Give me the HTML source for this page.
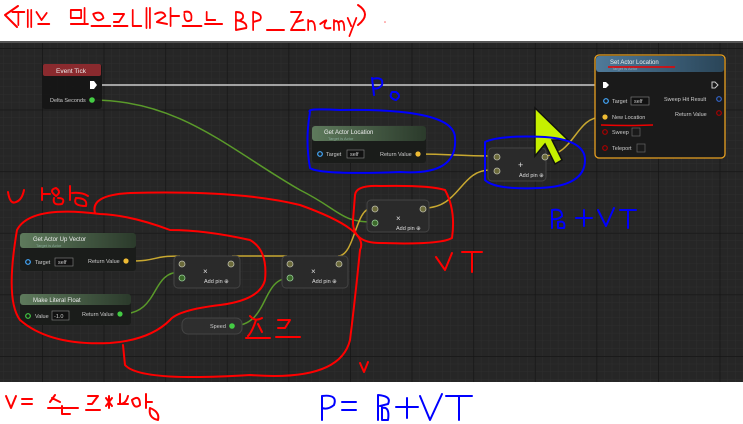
<!DOCTYPE html>
<html><head><meta charset="utf-8"><style>
html,body{margin:0;padding:0;background:#fff;width:743px;height:424px;overflow:hidden}
svg{display:block}
text{font-family:"Liberation Sans",sans-serif}
</style></head><body>
<svg width="743" height="424" viewBox="0 0 743 424" xmlns="http://www.w3.org/2000/svg">
<defs>
<pattern id="mn" x="42" y="48" width="7.7" height="7.7" patternUnits="userSpaceOnUse"><path d="M0 0H7.7M0 0V7.7" stroke="#2e2e2e" stroke-width="1" fill="none"/></pattern>
<pattern id="mj" x="42" y="48" width="61.6" height="61.6" patternUnits="userSpaceOnUse"><path d="M0 0H61.6M0 0V61.6" stroke="#151515" stroke-width="1.5" fill="none"/></pattern>
<linearGradient id="gh" x1="0" x2="1"><stop offset="0" stop-color="#5e7a5c"/><stop offset="1" stop-color="#2b3a2b"/></linearGradient>
<linearGradient id="bh" x1="0" x2="1"><stop offset="0" stop-color="#4f7a9a"/><stop offset="1" stop-color="#2a4558"/></linearGradient>
</defs>
<rect x="0" y="41" width="743" height="341" fill="#262626"/>
<rect x="0" y="41" width="743" height="341" fill="url(#mn)"/>
<rect x="0" y="41" width="743" height="341" fill="url(#mj)"/>
<rect x="0" y="41" width="743" height="2" fill="#555"/>

<!-- wires -->
<path d="M102 85 H598" stroke="#ccc" stroke-width="1.5" fill="none"/>
<path d="M92 100 C180 100 230 150 300 190 C340 210 340 222 372 222" stroke="#5a9a2a" stroke-width="1.5" fill="none"/>
<path d="M128 261 C160 261 150 256 180 256" stroke="#c8a830" stroke-width="1.5" fill="none"/>
<path d="M232 256 H287" stroke="#c8a830" stroke-width="1.5" fill="none"/>
<path d="M338 256 C355 256 355 208 372 208" stroke="#c8a830" stroke-width="1.5" fill="none"/>
<path d="M424 208 C460 208 460 170 490 170" stroke="#c8a830" stroke-width="1.5" fill="none"/>
<path d="M418 154 C450 154 460 156 490 156" stroke="#c8a830" stroke-width="1.5" fill="none"/>
<path d="M543 156 C575 156 575 117 602 117" stroke="#c8a830" stroke-width="1.5" fill="none"/>
<path d="M121 314 C160 314 150 272 180 272" stroke="#5a9a2a" stroke-width="1.5" fill="none"/>
<path d="M232 326 C270 326 260 278 290 278" stroke="#5a9a2a" stroke-width="1.5" fill="none"/>

<!-- Event Tick -->
<rect x="42" y="64" width="60" height="45" rx="3" fill="#151515" opacity=".9"/>
<rect x="43" y="64" width="58" height="12" rx="2" fill="#8a2a2e"/>
<text x="56" y="73" font-size="6.5" fill="#eee">Event Tick</text>
<path d="M90 81 h4 l3 4 l-3 4 h-4z" fill="#fff"/>
<text x="50" y="102" font-size="5.5" fill="#ccc">Delta Seconds</text>
<circle cx="92" cy="100" r="2.8" fill="#4c4"/>

<!-- Get Actor Location -->
<rect x="312" y="126" width="114" height="37" rx="3" fill="#1a1c1a"/>
<rect x="312" y="126" width="114" height="15" rx="3" fill="url(#gh)"/>
<text x="324" y="134" font-size="6" fill="#eee">Get Actor Location</text>
<text x="328" y="140" font-size="4" fill="#8a9">Target is Actor</text>
<circle cx="320" cy="154" r="2.3" fill="none" stroke="#4af" stroke-width="1.2"/>
<text x="326" y="156" font-size="5.5" fill="#ccc">Target</text>
<rect x="347" y="150" width="17" height="8" fill="#111" stroke="#888" stroke-width=".6"/><text x="350" y="156" font-size="5.5" fill="#ccc">self</text>
<text x="380" y="156" font-size="5.5" fill="#ccc">Return Value</text>
<circle cx="418" cy="154" r="2.6" fill="#eb3"/>

<!-- Set Actor Location -->
<rect x="595" y="55" width="130" height="103" rx="4" fill="#1a1a1a" stroke="#e8a020" stroke-width="1.3"/>
<rect x="596" y="56" width="128" height="16" rx="3" fill="url(#bh)"/>
<text x="610" y="64" font-size="6" fill="#eee">Set Actor Location</text>
<text x="612" y="70" font-size="4" fill="#9ab">Target is Actor</text>
<path d="M608 67 H675" stroke="#e00" stroke-width="1.5"/>
<path d="M603 82 h3 l3 3 l-3 3 h-3z" fill="#fff"/>
<path d="M712 82 h3 l3 3 l-3 3 h-3z" fill="none" stroke="#ccc"/>
<circle cx="606" cy="101" r="2.3" fill="none" stroke="#4af" stroke-width="1.2"/>
<text x="612" y="103" font-size="5.5" fill="#ccc">Target</text>
<rect x="631" y="97" width="18" height="8" fill="#111" stroke="#888" stroke-width=".6"/><text x="634" y="103" font-size="5.5" fill="#ccc">self</text>
<text x="664" y="101" font-size="5.5" fill="#ccc">Sweep Hit Result</text>
<circle cx="719" cy="99" r="2.3" fill="none" stroke="#36c" stroke-width="1.2"/>
<text x="675" y="116" font-size="5.5" fill="#ccc">Return Value</text>
<circle cx="719" cy="113" r="2.3" fill="none" stroke="#a00" stroke-width="1.2"/>
<circle cx="605" cy="117" r="2.6" fill="#eb3"/>
<text x="612" y="119" font-size="5.5" fill="#ccc">New Location</text>
<path d="M601 125 Q630 126 653 125" stroke="#e00" stroke-width="1.5" fill="none"/>
<circle cx="605" cy="132" r="2.3" fill="none" stroke="#a00" stroke-width="1.2"/>
<text x="612" y="134" font-size="5.5" fill="#ccc">Sweep</text>
<rect x="632" y="128" width="8" height="8" fill="none" stroke="#666" stroke-width=".7"/>
<circle cx="605" cy="148" r="2.3" fill="none" stroke="#a00" stroke-width="1.2"/>
<text x="612" y="150" font-size="5.5" fill="#ccc">Teleport</text>
<rect x="637" y="144" width="8" height="8" fill="none" stroke="#666" stroke-width=".7"/>

<!-- add node (top) -->
<rect x="488" y="148" width="58" height="33" rx="4" fill="#2a2a2a" stroke="#444"/>
<circle cx="497" cy="157" r="3" fill="#6b6a3a" stroke="#bba" stroke-width=".8"/>
<circle cx="497" cy="171" r="3" fill="#6b6a3a" stroke="#bba" stroke-width=".8"/>
<circle cx="545" cy="157" r="3" fill="#6b6a3a" stroke="#bba" stroke-width=".8"/>
<text x="518" y="168" font-size="9" fill="#ddd">+</text>
<text x="519" y="177" font-size="5.5" fill="#ddd">Add pin ⊕</text>

<!-- multiply nodes -->
<g>
<rect x="367" y="200" width="62" height="32" rx="4" fill="#2a2a2a" stroke="#444"/>
<circle cx="375" cy="209" r="3" fill="#6b6a3a" stroke="#bba" stroke-width=".8"/>
<circle cx="375" cy="223" r="3" fill="#3b6a2a" stroke="#9c9" stroke-width=".8"/>
<circle cx="423" cy="209" r="3" fill="#6b6a3a" stroke="#bba" stroke-width=".8"/>
<text x="396" y="221" font-size="8" fill="#ddd">×</text>
<text x="396" y="230" font-size="5.5" fill="#ddd">Add pin ⊕</text>
</g>
<g>
<rect x="174" y="256" width="66" height="32" rx="4" fill="#2a2a2a" stroke="#444"/>
<circle cx="182" cy="264" r="3" fill="#6b6a3a" stroke="#bba" stroke-width=".8"/>
<circle cx="182" cy="278" r="3" fill="#3b6a2a" stroke="#9c9" stroke-width=".8"/>
<circle cx="231" cy="264" r="3" fill="#6b6a3a" stroke="#bba" stroke-width=".8"/>
<text x="203" y="274" font-size="8" fill="#ddd">×</text>
<text x="204" y="283" font-size="5.5" fill="#ddd">Add pin ⊕</text>
</g>
<g>
<rect x="282" y="256" width="66" height="32" rx="4" fill="#2a2a2a" stroke="#444"/>
<circle cx="290" cy="264" r="3" fill="#6b6a3a" stroke="#bba" stroke-width=".8"/>
<circle cx="290" cy="278" r="3" fill="#3b6a2a" stroke="#9c9" stroke-width=".8"/>
<circle cx="339" cy="264" r="3" fill="#6b6a3a" stroke="#bba" stroke-width=".8"/>
<text x="311" y="274" font-size="8" fill="#ddd">×</text>
<text x="312" y="283" font-size="5.5" fill="#ddd">Add pin ⊕</text>
</g>

<!-- Get Actor Up Vector -->
<rect x="20" y="233" width="116" height="38" rx="3" fill="#1a1c1a"/>
<rect x="20" y="233" width="116" height="15" rx="3" fill="url(#gh)"/>
<text x="33" y="241" font-size="6" fill="#eee">Get Actor Up Vector</text>
<text x="36" y="247" font-size="4" fill="#8a9">Target is Actor</text>
<circle cx="28" cy="262" r="2.3" fill="none" stroke="#4af" stroke-width="1.2"/>
<text x="35" y="264" font-size="5.5" fill="#ccc">Target</text>
<rect x="55" y="258" width="18" height="8" fill="#111" stroke="#888" stroke-width=".6"/><text x="58" y="264" font-size="5.5" fill="#ccc">self</text>
<text x="88" y="263" font-size="5.5" fill="#ccc">Return Value</text>
<circle cx="126" cy="261" r="2.6" fill="#eb3"/>

<!-- Make Literal Float -->
<rect x="20" y="294" width="111" height="31" rx="3" fill="#1a1c1a"/>
<rect x="20" y="294" width="111" height="11" rx="3" fill="url(#gh)"/>
<text x="33" y="302" font-size="6" fill="#eee">Make Literal Float</text>
<circle cx="28" cy="316" r="2.3" fill="none" stroke="#4c4" stroke-width="1.2"/>
<text x="35" y="318" font-size="5.5" fill="#ccc">Value</text>
<rect x="52" y="311" width="17" height="9" fill="#111" stroke="#888" stroke-width=".6"/><text x="54" y="318" font-size="5.5" fill="#ccc">-1.0</text>
<text x="82" y="316" font-size="5.5" fill="#ccc">Return Value</text>
<circle cx="120" cy="314" r="2.6" fill="#4c4"/>

<!-- Speed -->
<rect x="182" y="318" width="60" height="16" rx="6" fill="#2e2e2e" stroke="#444"/>
<text x="210" y="328" font-size="5.5" fill="#ccc">Speed</text>
<circle cx="232" cy="326" r="2.8" fill="#4c4"/>

<!-- annotations red -->
<g fill="none" stroke="#f00" stroke-width="2" stroke-linecap="round" stroke-linejoin="round">
<path d="M18 6 L5 15 L17 27"/>
<path d="M358 5 Q372 14 358 25"/>
<path d="M95 213 Q90 195 130 193 Q240 190 300 205 Q370 230 360 250 Q355 300 350 340 Q340 382 250 375 Q140 382 125 365 L123 345"/>
<path d="M100 214 Q30 205 17 230 Q5 300 20 320 Q50 346 110 343 Q150 340 170 320 Q178 310 220 305 Q260 300 265 280 Q268 250 250 240 Q205 230 170 230 Q130 215 100 214"/>
<path d="M355 195 Q356 185 380 186 Q430 185 445 190 Q456 210 452 238 Q440 245 380 243 Q352 243 353 220 Z"/>
<path d="M8 192 Q10 205 16 202 Q22 200 24 190"/><path d="M42 188 V200 M42 194 H50 M56 188 Q48 190 56 196 Q62 192 56 188 M54 198 Q52 206 62 204 Q66 198 58 198"/><path d="M70 186 V200 M72 193 Q82 192 88 196 M76 198 Q72 206 86 206 Q88 198 76 198"/>
<path d="M436 257 L445 270 L452 253 M462 252 H482 M472 252 V272"/>
<path d="M360 363 L364 372 L368 362"/>
<path d="M250 316 Q255 322 262 318 M256 320 Q252 332 248 336 M258 324 L262 332 M246 338 H270 M278 320 H290 L285 328 H278 M276 337 H300"/>
<path d="M6 396 L11 408 L16 396 M22 399 H32 M22 404 H32"/>
<path d="M55 395 L50 402 M52 398 L60 402 M48 408 H78 M62 406 V414 M62 414 H70 M88 396 H98 L92 404 H88 M86 410 H100 M106 398 L112 406 M112 398 L106 406 M109 396 V408 M120 394 V404 Q126 404 128 396 M118 404 H128 M132 400 Q140 394 140 405 Q134 410 132 400 M146 394 V408 M146 402 H152 M150 408 Q160 412 158 420 Q148 418 150 408"/>
<g transform="translate(2 0) scale(0.86 1)">
<path d="M12 12 H26 M19 12 V25 M30 10 V27 M34 10 V27 M40 12 L46 20 L52 13 M42 24 H55"/>
<path d="M80 10 H92 V18 H80 Z M96 8 V24 M80 24 H100 M106 14 Q116 10 118 18 Q110 24 106 14 M104 26 H126 M130 14 H142 L136 22 H130 M130 26 H146"/>
<path d="M152 10 V26 H162 M168 8 V28 M172 8 V28 M178 14 Q188 10 190 16 L180 22 L192 24 M196 8 V26 M196 16 H206 M212 12 Q222 10 220 20 Q212 24 212 14 M210 26 H232 M238 12 V20 H248 M236 24 H256"/>
<path d="M272 12 V30 M272 12 Q282 12 280 18 Q276 22 272 20 Q286 22 284 28 L272 30 M292 12 V30 M292 12 Q304 14 300 20 L292 22 M308 30 H328 M336 12 H348 L336 30 H352 M342 22 L350 20 M356 20 V30 M356 22 Q364 18 364 30 M370 24 Q380 18 376 22 Q372 30 382 28 M386 20 V30 M386 22 Q392 18 392 30 M392 22 Q398 18 398 30 M402 18 L406 26 M412 18 L404 36"/>
</g>
</g>
<circle cx="385" cy="22" r="0.8" fill="#f66"/>

<!-- cursor -->
<path d="M535 108 L568 140 L552 140 L562 160 L555 164 L545 144 L535 156 Z" fill="#c6f000" stroke="#111" stroke-width="1.5"/>

<!-- annotations blue -->
<g fill="none" stroke="#00f" stroke-width="2" stroke-linecap="round" stroke-linejoin="round">
<path d="M310 112 Q305 108 340 110 Q455 108 455 138 Q458 176 400 172 Q320 175 310 168 Q305 140 310 112 Z"/>
<path d="M485 142 Q500 135 545 137 Q585 140 585 160 Q585 186 540 188 Q495 190 485 180 Z"/>
<path d="M372 78 L374 95 M372 79 Q384 76 382 85 Q378 90 373 88 M392 92 Q388 98 396 100 Q402 96 396 92 Z"/>
<path d="M552 210 V228 M552 210 Q562 208 562 216 Q558 220 552 219 M558 222 V228 M558 222 Q566 220 564 228 L558 228 M576 218 H592 M584 210 V226 M598 210 L606 226 L614 208 M620 210 H636 M628 210 V228"/>
<path d="M322 396 V420 M322 396 Q338 394 334 405 Q328 410 322 408 M342 402 H356 M342 410 H356 M378 395 V420 M378 395 Q392 396 388 404 L380 406 M382 406 V420 M382 408 Q390 406 388 420 L382 420 M396 407 H418 M407 398 V418 M420 396 L430 420 L442 394 M446 396 H472 M459 396 V420"/>
</g>
</svg>
</body></html>
